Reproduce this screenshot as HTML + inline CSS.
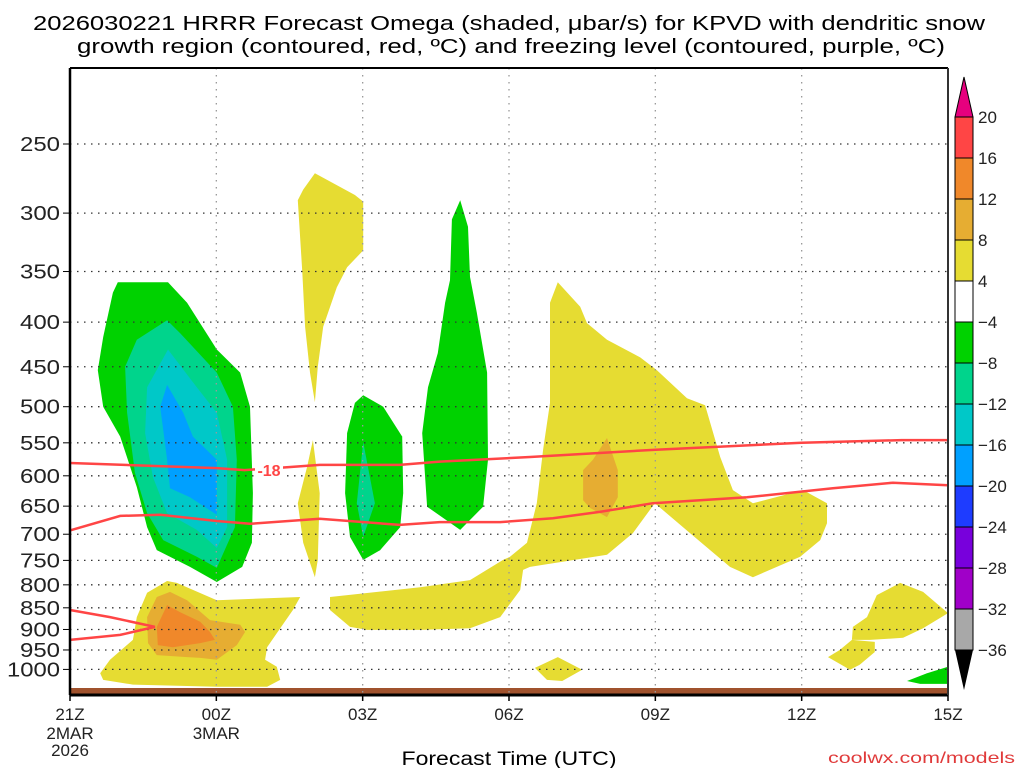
<!DOCTYPE html>
<html><head><meta charset="utf-8"><style>
html,body{margin:0;padding:0;background:#fff;}
svg{display:block;font-family:"Liberation Sans",sans-serif;}
</style></head><body>
<svg id="chart" width="1024" height="768" viewBox="0 0 1024 768" xmlns="http://www.w3.org/2000/svg">
<g>
<text x="509" y="30" font-size="20" text-anchor="middle" textLength="952" lengthAdjust="spacingAndGlyphs">2026030221 HRRR Forecast Omega (shaded, μbar/s) for KPVD with dendritic snow</text>
<text x="511" y="53" font-size="20" text-anchor="middle" textLength="868" lengthAdjust="spacingAndGlyphs">growth region (contoured, red, ºC) and freezing level (contoured, purple, ºC)</text>
</g>
<g id="fills"></g>
<g id="grid"></g>
<g id="contours"></g>
<g id="axes"></g>
<g id="cbar"></g>
<text x="509" y="765" font-size="19" text-anchor="middle" textLength="215" lengthAdjust="spacingAndGlyphs">Forecast Time (UTC)</text>
<text x="1015" y="763" font-size="16" text-anchor="end" fill="#e03a3a" textLength="187" lengthAdjust="spacingAndGlyphs">coolwx.com/models</text>
</svg>
<script>
const NS="http://www.w3.org/2000/svg";
const xTicks=[0,3,6,9,12,15,18];
const xTickLabels=["21Z","00Z","03Z","06Z","09Z","12Z","15Z"];
const xTickSub1=["2MAR","3MAR","","","","",""];
const xTickSub2=["2026","","","","","",""];
const yTicks=[250,300,350,400,450,500,550,600,650,700,750,800,850,900,950,1000];
const cbarLevels=[20,16,12,8,4,-4,-8,-12,-16,-20,-24,-28,-32,-36];
const cbarColors=["#ff4545","#f0882a","#e6ad32","#e6dc32","#ffffff","#00d200","#00d48c","#00c8c8","#00a0ff","#1e3cff","#7800dc","#a000c8","#a8a8a8"];
const yellow1=[[0.62,1010],[0.82,975],[1.29,925],[1.37,871],[1.58,817],[1.99,792],[2.19,796],[3.01,833],[4.72,826],[4.57,855],[4.04,943],[4.00,975],[4.24,993],[4.31,1028],[4.04,1047],[3.01,1047],[1.29,1041],[0.68,1028]];
const orange8a=[[1.58,871],[1.78,826],[2.05,815],[2.40,833],[2.87,878],[3.49,889],[3.59,906],[3.42,938],[3.01,975],[2.67,970],[2.40,968],[1.78,963],[1.60,933]];
const orange12=[[1.99,844],[2.26,860],[2.67,882],[2.87,906],[2.97,925],[2.67,933],[2.11,943],[1.80,938],[1.78,894]];
const yellowTop=[[5.02,270],[5.84,286],[6.01,291],[6.01,331],[5.68,346],[5.47,365],[5.19,405],[5.08,450],[5.02,494],[4.92,457],[4.82,405],[4.76,349],[4.67,290],[4.78,282]];
const yellowLens=[[4.98,546],[5.12,628],[5.08,749],[5.02,784],[4.78,716],[4.67,645],[4.86,586]];
const yellowBig=[[5.33,826],[7.18,805],[8.20,790],[8.88,749],[9.02,743],[9.37,716],[9.57,645],[9.70,560],[9.84,495],[9.84,380],[10.00,360],[10.46,384],[10.60,401],[11.01,419],[11.69,439],[12.03,454],[12.65,489],[13.02,498],[13.33,571],[13.59,623],[14.00,645],[15.03,623],[15.52,645],[15.52,680],[15.38,711],[14.97,743],[14.00,784],[13.53,763],[12.71,698],[11.99,645],[11.54,698],[11.01,739],[9.43,763],[9.29,769],[9.23,811],[8.82,871],[8.20,897],[7.18,901],[6.09,901],[5.74,894],[5.33,855]];
const orange8b=[[11.01,543],[11.23,591],[11.23,635],[11.01,669],[10.66,653],[10.52,640],[10.52,591],[10.72,575]];
const yellowSmall=[[9.53,996],[10.00,968],[10.50,1001],[10.09,1031],[9.78,1028]];
const yellowRight1=[[16.54,822],[17.02,796],[17.49,815],[18.0,862],[17.49,897],[17.08,920],[16.40,925],[16.03,925],[16.05,894],[16.34,871]];
const yellowRight2=[[16.03,925],[16.50,930],[16.50,955],[16.19,988],[15.99,1001],[15.54,968],[15.78,950]];
const green1=[[0.98,360],[2.01,360],[2.40,380],[3.01,430],[3.49,457],[3.69,500],[3.75,628],[3.73,716],[3.53,763],[3.01,794],[2.46,763],[1.78,730],[1.58,687],[1.37,618],[1.03,541],[0.68,500],[0.57,454],[0.68,416],[0.88,370]];
const teal1=[[1.99,398],[2.26,412],[3.01,457],[3.34,500],[3.42,575],[3.38,687],[3.01,765],[2.60,743],[1.91,711],[1.58,662],[1.33,595],[1.17,508],[1.13,450],[1.37,419]];
const cyan1=[[2.01,430],[2.60,475],[3.01,508],[3.22,575],[3.22,687],[3.01,726],[2.60,692],[1.99,662],[1.70,602],[1.54,536],[1.58,475]];
const blue1=[[1.99,472],[2.32,508],[2.52,541],[3.01,575],[3.01,665],[2.46,635],[2.05,620],[1.99,575],[1.85,500]];
const green2=[[6.01,485],[6.42,500],[6.81,541],[6.83,628],[6.77,687],[6.36,730],[6.01,749],[5.74,705],[5.64,628],[5.68,536],[5.84,495]];
const teal2=[[6.01,549],[6.25,645],[6.01,705],[5.88,645]];
const green3=[[8.00,290],[8.16,311],[8.20,355],[8.34,390],[8.55,457],[8.57,575],[8.47,651],[8.00,692],[7.32,651],[7.22,536],[7.34,475],[7.54,434],[7.69,380],[7.79,358],[7.83,305]];
const green4=[[17.16,1031],[17.57,1010],[18.0,993],[18.0,1039],[17.43,1039]];
const dgzTopH=[0,3.01,3.58,4.2,5.12,6.76,7.58,9.43,12.01,15.0,17.05,18];
const dgzTopP=[580,588,591,588,583,583,578,571,560,550,546,546];
const dgzBotH=[0,1.03,1.85,3.01,3.69,5.12,6.76,7.58,8.82,9.90,10.86,11.95,13.88,15.64,16.87,18];
const dgzBotP=[693,667,665,676,681,672,683,678,678,671,660,645,635,620,611,615];
const dgzLeftH=[0,0.82,1.74,1.03,0];
const dgzLeftP=[855,871,894,913,925];

const X0=70,X1=948,YT=68,YB=695;
function X(h){return X0+h*(X1-X0)/18;}
function Y(p){return 144+379*Math.log(p/250);}
function mk(tag,attrs,parent){const e=document.createElementNS(NS,tag);for(const k in attrs)e.setAttribute(k,attrs[k]);parent.appendChild(e);return e;}
const fills=document.getElementById('fills');
function poly(pts,col,name){const e=mk('polygon',{points:pts.map(q=>X(q[0]).toFixed(1)+','+Y(q[1]).toFixed(1)).join(' '),fill:col},fills);

}
poly(yellow1,"#e6dc32","omega-4-8-lowlevel");
poly(orange8a,"#e6ad32","omega-8-12-lowlevel");
poly(orange12,"#f0882a","omega-12-16-lowlevel");
poly(yellowTop,"#e6dc32","omega-4-8-upper");
poly(yellowLens,"#e6dc32","omega-4-8-lens");
poly(yellowBig,"#e6dc32","omega-4-8-main");
poly(orange8b,"#e6ad32","omega-8-12-midlevel");
poly(yellowSmall,"#e6dc32","omega-4-8-small");
poly(yellowRight1,"#e6dc32","omega-4-8-right");
poly(yellowRight2,"#e6dc32","omega-4-8-right-small");
poly(green1,"#00d200","omega-neg4-left");
poly(teal1,"#00d48c","omega-neg8-left");
poly(cyan1,"#00c8c8","omega-neg12-left");
poly(blue1,"#00a0ff","omega-neg16-left");
poly(green2,"#00d200","omega-neg4-mid");
poly(teal2,"#00d48c","omega-neg8-mid");
poly(green3,"#00d200","omega-neg4-tall");
poly(green4,"#00d200","omega-neg4-corner");

const ground=mk('rect',{x:X0,y:688,width:X1-X0,height:7,fill:"#a0522d"},fills);



const grid=document.getElementById('grid');
yTicks.forEach(p=>{const l=mk('line',{x1:X0,x2:X1,y1:Y(p),y2:Y(p),stroke:"#333","stroke-width":1.3,"stroke-dasharray":"1.5 5.5"},grid);

});
xTicks.slice(1,-1).forEach(h=>{const l=mk('line',{x1:X(h),x2:X(h),y1:YT,y2:YB,stroke:"#999","stroke-width":1.3,"stroke-dasharray":"1.5 5.5"},grid);

});

const cont=document.getElementById('contours');
function pl(H,P,name){const e=mk('polyline',{points:H.map((h,i)=>X(h).toFixed(1)+','+Y(P[i]).toFixed(1)).join(' '),fill:"none",stroke:"#ff4545","stroke-width":2.5},cont);

}
pl(dgzTopH,dgzTopP,'dgz-upper-contour');
pl(dgzBotH,dgzBotP,'dgz-lower-contour');
pl(dgzLeftH,dgzLeftP,'dgz-left-contour');
const lblBg=mk('rect',{x:255,y:460,width:28,height:18,fill:"#fff"},cont);


const lbl=mk('text',{x:269,y:476,"font-size":16,"font-weight":"bold",fill:"#ff4545","text-anchor":"middle"},cont);
lbl.textContent="-18";



const ax=document.getElementById('axes');
[[X0,YT,X0,YB,"#000",2.5],[X0,YB,X1,YB,"#000",3],[X0,YT,X1,YT,"#000",2],[X1,YT,X1,YB,"#333",2]].forEach(a=>{const l=mk('line',{x1:a[0],y1:a[1],x2:a[2],y2:a[3],stroke:a[4],"stroke-width":a[5]},ax);

});
yTicks.forEach(p=>{const s=String(p);const t=mk('text',{x:60,y:Y(p)+7,"font-size":20,"text-anchor":"end",fill:"#222",textLength:s.length>3?53:40,lengthAdjust:"spacingAndGlyphs"},ax);t.textContent=s;


const tk=mk('line',{x1:63,x2:X0,y1:Y(p),y2:Y(p),stroke:"#000","stroke-width":1},ax);

});
xTicks.forEach((h,i)=>{const tk=mk('line',{x1:X(h),x2:X(h),y1:YB,y2:YB+6,stroke:"#000","stroke-width":1.5},ax);


[[xTickLabels[i],720],[xTickSub1[i],739],[xTickSub2[i],756]].forEach(s=>{if(!s[0])return;const t=mk('text',{x:X(h),y:s[1],"font-size":17,"text-anchor":"middle",fill:"#222"},ax);t.textContent=s[0];

});});

const cb=document.getElementById('cbar');
const CB0=117,CBH=41,CX=955,CW=18;
cbarColors.forEach((c,i)=>{const r=mk('rect',{x:CX,y:CB0+i*CBH,width:CW,height:CBH,fill:c,stroke:"#000","stroke-width":1},cb);

});
const tu=mk('polygon',{points:`${CX},${CB0} ${CX+CW},${CB0} ${CX+CW/2},77`,fill:"#e6007e",stroke:"#000","stroke-width":1},cb);


const lastY=CB0+cbarColors.length*CBH;
const td=mk('polygon',{points:`${CX},${lastY} ${CX+CW},${lastY} ${CX+CW/2},${lastY+40}`,fill:"#000"},cb);


cbarLevels.forEach((v,i)=>{const t=mk('text',{x:978,y:CB0+i*CBH+6,"font-size":17,fill:"#222"},cb);t.textContent=v<0?"\u2212"+(-v):String(v);

});
</script>
</body></html>
